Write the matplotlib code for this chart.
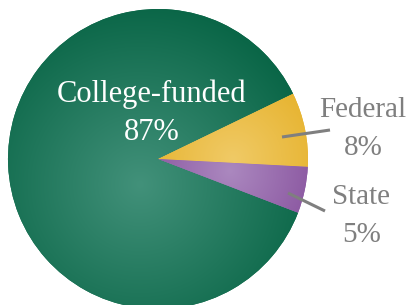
import numpy as np
import matplotlib
matplotlib.use("Agg")
import matplotlib.pyplot as plt
from matplotlib.colors import to_rgb

# Data
labels = ["College-funded", "Federal", "State"]
shares = [87, 8, 5]
edge_colors = ["#0a6647", "#e6b22c", "#8a56a0"]
light_colors = ["#42917a", "#f0ca66", "#ab88bf"]

# pixel layout -> data units (radius = 1)
W, H = 410, 305
cx, cy, R = 158, 159, 150

fig = plt.figure(figsize=(W / 100, H / 100), dpi=100)
ax = fig.add_axes([0, 0, 1, 1])
xmin, xmax = -cx / R, (W - cx) / R
ymin, ymax = -(H - cy) / R, cy / R

wedges, _ = ax.pie(shares, radius=1, center=(0, 0), startangle=-21,
                   counterclock=False, colors=edge_colors,
                   wedgeprops=dict(linewidth=0), frame=True)
ax.set_xlim(xmin, xmax)
ax.set_ylim(ymin, ymax)
ax.set_aspect("equal")
ax.axis("off")

# radial gradient for each wedge (focal points in data coords)
focus = [(-0.12, -0.17), (0.5, 0.0), (0.48, -0.08)]
spread = [1.2, 0.65, 0.6]
gx = np.linspace(xmin, xmax, 410)
gy = np.linspace(ymax, ymin, 305)
X, Y = np.meshgrid(gx, gy)
for w, c0, c1, (fx, fy), s in zip(wedges, light_colors, edge_colors, focus, spread):
    d = np.clip(np.hypot(X - fx, Y - fy) / s, 0, 1)[..., None]
    img = np.array(to_rgb(c0)) * (1 - d) + np.array(to_rgb(c1)) * d
    im = ax.imshow(img, extent=(xmin, xmax, ymin, ymax), zorder=1)
    im.set_clip_path(w)
    w.set_zorder(0)

serif = ["Liberation Serif", "DejaVu Serif"]
grey = "#7f7f7f"

def px(x, y):
    return (x - cx) / R, (cy - y) / R

ax.text(*px(152, 102), "College-funded", ha="center", va="baseline",
        color="white", fontsize=22, family=serif, zorder=3)
ax.text(*px(152, 140), "87%", ha="center", va="baseline",
        color="white", fontsize=22, family=serif, zorder=3)

ax.text(*px(363, 117), "Federal", ha="center", va="baseline",
        color=grey, fontsize=21, family=serif, zorder=3)
ax.text(*px(363, 155), "8%", ha="center", va="baseline",
        color=grey, fontsize=21, family=serif, zorder=3)
ax.text(*px(361, 204), "State", ha="center", va="baseline",
        color=grey, fontsize=21, family=serif, zorder=3)
ax.text(*px(362, 242), "5%", ha="center", va="baseline",
        color=grey, fontsize=21, family=serif, zorder=3)

# leader lines
for (x0, y0), (x1, y1) in [((282, 137), (330, 130)), ((288, 193), (325, 211))]:
    a, b = px(x0, y0), px(x1, y1)
    ax.plot([a[0], b[0]], [a[1], b[1]], color=grey, lw=2.2,
            solid_capstyle="butt", zorder=3)

fig.savefig("out.png", dpi=100, facecolor="white")
